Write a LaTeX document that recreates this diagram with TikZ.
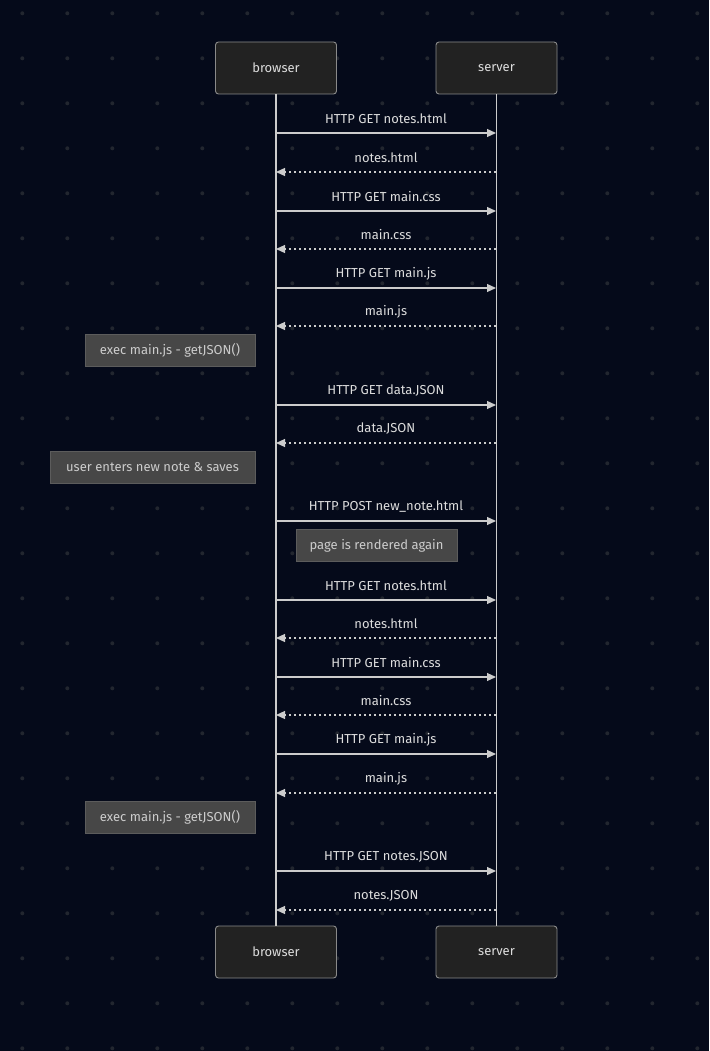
\documentclass[tikz,border=0pt]{standalone}
\usepackage{fontspec}
\setmainfont{Fira Sans}
\usetikzlibrary{arrows.meta}
\definecolor{bgc}{HTML}{050A1A}
\definecolor{dotc}{HTML}{22262F}
\definecolor{linec}{HTML}{CCCCCC}
\definecolor{txtc}{HTML}{DDDDDD}
\definecolor{actfill}{HTML}{222222}
\definecolor{actdraw}{HTML}{8A8A8A}
\definecolor{notefill}{HTML}{474747}
\definecolor{notedraw}{HTML}{5C5C5C}
\definecolor{notetxt}{HTML}{CCCCCC}
\tikzset{
  actor/.style={draw=actdraw, fill=actfill, line width=0.9pt, rounded corners=3pt,
    minimum width=121pt, minimum height=52pt, inner sep=0pt, text=txtc,
    font=\fontsize{13}{15}\selectfont},
  lifeline/.style={draw=linec, line width=1.2pt},
  msg/.style={draw=linec, line width=1.2pt, -{Triangle[length=9pt,width=8pt]}},
  reply/.style={draw=linec, line width=1.2pt, dash pattern=on 2.5pt off 2.5pt,
    -{Triangle[length=9pt,width=8pt]}},
  lbl/.style={text=txtc, font=\fontsize{13}{15}\selectfont, inner sep=0pt},
  note/.style={draw=notedraw, fill=notefill, line width=0.9pt, inner sep=0pt,
    minimum height=32pt, text=notetxt, font=\fontsize{13}{15}\selectfont}
}
\begin{document}
\begin{tikzpicture}[x=1pt, y=-1pt]
  % canvas and dotted grid
  \fill[bgc] (0,0) rectangle (709,1051);
  \useasboundingbox (0,0) rectangle (709,1051);
  \foreach \gx in {0,...,15}
    \foreach \gy in {0,...,23}
      \fill[dotc] (22.3+45*\gx, 13.3+45*\gy) circle (2pt);

  % participants
  \node[actor] (b1) at (276,68) {browser};
  \node[actor] (s1) at (496.5,68) {server};
  \node[actor] (b2) at (276,952) {browser};
  \node[actor] (s2) at (496.5,952) {server};

  % lifelines
  \draw[lifeline] (b1.south) -- (b2.north);
  \draw[lifeline] (s1.south) -- (s2.north);

  % message labels and lifeline anchor points
  \foreach \y/\t in {
      133/HTTP GET notes.html,
      172/notes.html,
      211/HTTP GET main.css,
      249/main.css,
      288/HTTP GET main.js,
      326/main.js,
      405/HTTP GET data.JSON,
      443/data.JSON,
      521/HTTP POST new\_note.html,
      600/HTTP GET notes.html,
      638/notes.html,
      677/HTTP GET main.css,
      715/main.css,
      754/HTTP GET main.js,
      793/main.js,
      871/HTTP GET notes.JSON,
      910/notes.JSON}{
    \coordinate (b\y) at (276,\y);
    \coordinate (s\y) at (496,\y);
    \node[lbl] (l\y) at (386,\y-14.5) {\t};
  }
  % requests (solid) and responses (dashed)
  \foreach \y in {133,211,288,405,521,600,677,754,871}
    \draw[msg] (b\y) -- (s\y);
  \foreach \y in {172,249,326,443,638,715,793,910}
    \draw[reply] (s\y) -- (b\y);

  % notes
  \node[note, minimum width=170pt] (n1) at (170,350) {exec main.js - getJSON()};
  \node[note, minimum width=205pt] (n2) at (152.5,467) {user enters new note \& saves};
  \node[note, minimum width=161pt] (n3) at (376.5,545.5) {page is rendered again};
  \node[note, minimum width=170pt] (n4) at (170,817) {exec main.js - getJSON()};
\end{tikzpicture}
\end{document}
